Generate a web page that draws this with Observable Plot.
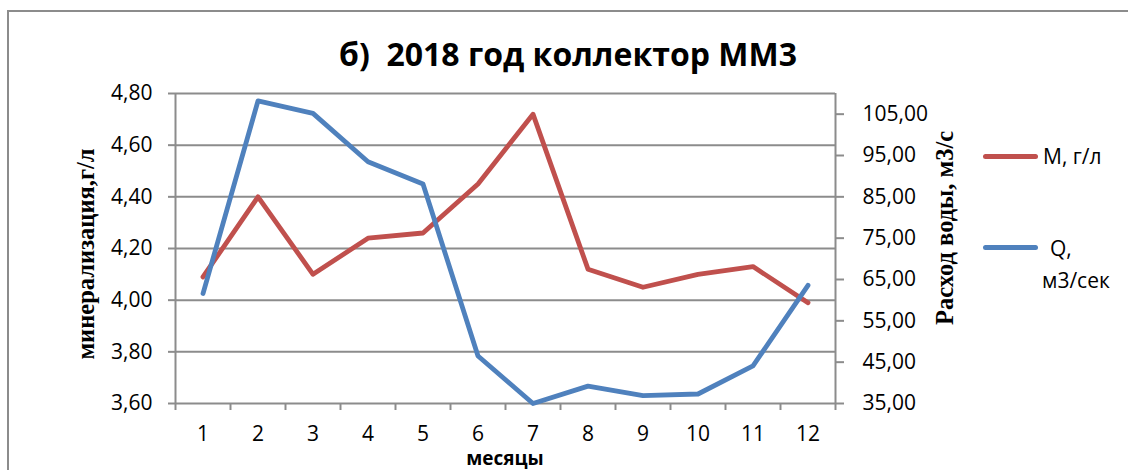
<!DOCTYPE html>
<html><head><meta charset="utf-8">
<script src="https://cdn.jsdelivr.net/npm/d3@7"></script>
<script src="https://cdn.jsdelivr.net/npm/@observablehq/plot@0.6"></script>
<style>
body{margin:0;background:#fff;}
#wrap{position:relative;width:1128px;height:470px;overflow:hidden;font-family:"Open Sans",sans-serif;color:#000;}
#border{position:absolute;left:7px;top:10px;width:1300px;height:600px;border:2px solid #8c8c8c;}
#chart{position:absolute;left:0;top:0;}
.title{position:absolute;left:0;width:1136px;top:33px;text-align:center;font-weight:bold;font-size:32px;line-height:42px;white-space:pre;}
.ytitle{position:absolute;font-family:"Liberation Serif",serif;font-weight:bold;font-size:24.5px;line-height:26px;white-space:nowrap;transform:translate(-50%,-50%) rotate(-90deg);}
.xtitle{position:absolute;left:505px;top:458px;transform:translate(-50%,-50%);font-weight:bold;font-size:19px;line-height:17px;}
.leg{position:absolute;font-size:21px;line-height:28px;white-space:nowrap;}
.sw{position:absolute;height:5px;border-radius:3px;width:55px;}
</style></head>
<body>
<div id="wrap">
  <div id="border"></div>
  <div id="chart"></div>
  <div class="title">б)  2018 год коллектор ММ3</div>
  <div class="ytitle" style="left:86px;top:254px;">минерализация,г/л</div>
  <div class="ytitle" style="left:945px;top:228px;">Расход воды, м3/с</div>
  <div class="xtitle">месяцы</div>
  <div class="sw" style="left:983px;top:154px;background:#C0504D"></div>
  <div class="leg" style="left:1043px;top:142px;">М, г/л</div>
  <div class="sw" style="left:983px;top:245px;background:#4F81BD"></div>
  <div class="leg" style="left:1050px;top:234px;">Q,</div>
  <div class="leg" style="left:1042px;top:266px;">м3/сек</div>
</div>
<script>
const months = [1,2,3,4,5,6,7,8,9,10,11,12];
const mineralization = [4.09,4.40,4.10,4.24,4.26,4.45,4.72,4.12,4.05,4.10,4.13,3.99];
const discharge = [61.6,108.2,105.2,93.5,88.1,46.5,35.0,39.2,36.9,37.3,44.1,63.6];
const leftTicks = [3.6,3.8,4.0,4.2,4.4,4.6,4.8];
const rightTicks = [35,45,55,65,75,85,95,105];
const leftDomain = [3.6,4.8];
const rightDomain = [35,110];

const toLeft = d3.scaleLinear().domain(rightDomain).range(leftDomain);
const fmt = v => d3.format(".2f")(v).replace(".", ",");
const boundaries = d3.range(0.5, 13, 1);

const M = months.map((m,i)=>({m, v: mineralization[i]}));
const Q = months.map((m,i)=>({m, v: toLeft(discharge[i])}));
const grid = "#8c8c8c";

const chart = Plot.plot({
  width: 1128, height: 470,
  marginLeft: 175, marginRight: 293, marginTop: 93, marginBottom: 67,
  style: {fontFamily: "'Open Sans', sans-serif", fontSize: "21px", background: "transparent", color: "#000"},
  x: {domain: [0.5, 12.5]},
  y: {domain: leftDomain},
  marks: [
    Plot.ruleY(leftTicks, {stroke: grid, strokeWidth: 2}),
    Plot.ruleX([0.5, 12.5], {stroke: grid, strokeWidth: 2}),
    Plot.axisY({ticks: leftTicks, tickFormat: fmt, tickSize: 7, tickPadding: 16, stroke: grid, strokeWidth: 2, fill: "#000", fontSize: 21, label: null}),
    Plot.axisY({anchor: "right", ticks: rightTicks.map(toLeft), tickFormat: v => fmt(toLeft.invert(v)), tickSize: 8, tickPadding: 19, stroke: grid, strokeWidth: 2, fill: "#000", fontSize: 21, label: null}),
    Plot.axisX({ticks: boundaries, tickFormat: () => "", tickSize: 7, stroke: grid, strokeWidth: 2, label: null}),
    Plot.axisX({ticks: months, tickFormat: d => String(d), tickSize: 0, tickPadding: 23, fill: "#000", fontSize: 21, label: null}),
    Plot.line(M, {x: "m", y: "v", stroke: "#C0504D", strokeWidth: 4.8, strokeLinejoin: "round", strokeLinecap: "round"}),
    Plot.line(Q, {x: "m", y: "v", stroke: "#4F81BD", strokeWidth: 4.8, strokeLinejoin: "round", strokeLinecap: "round"})
  ]
});
document.getElementById("chart").appendChild(chart);
</script>
</body></html>
